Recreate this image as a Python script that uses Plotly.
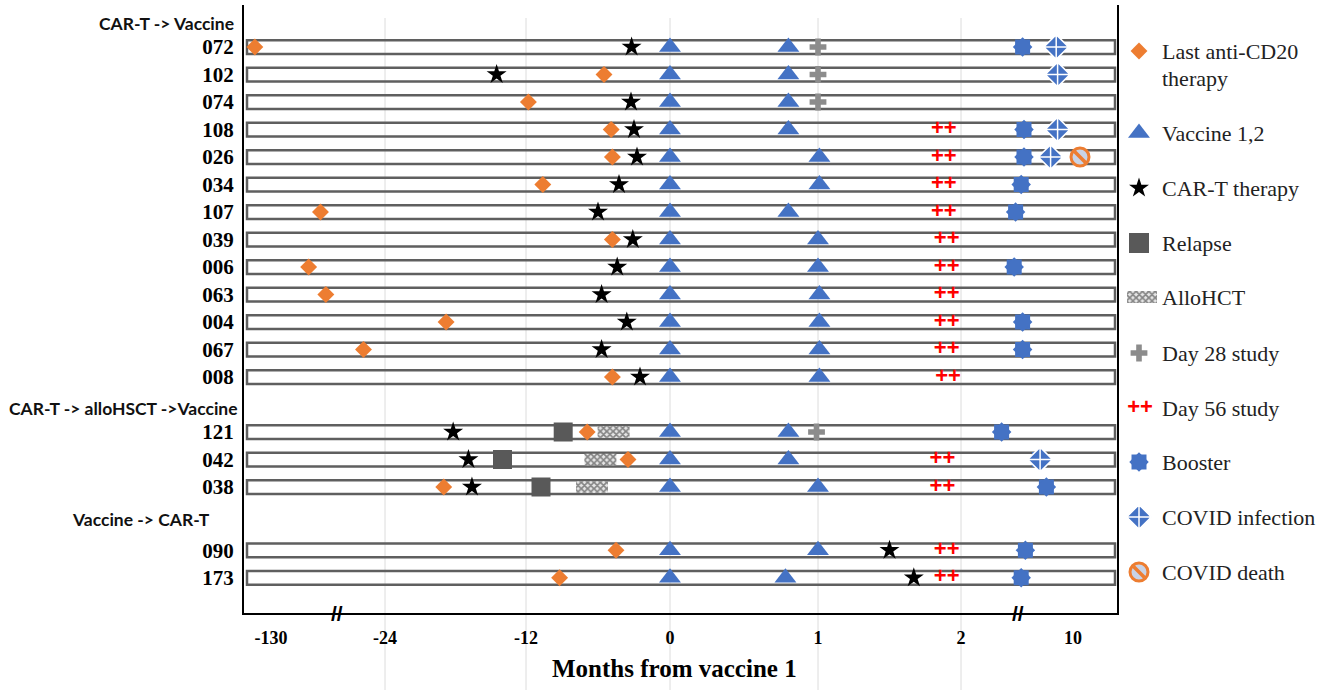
import numpy as np
import plotly.graph_objects as go

# ---------------- data (months from vaccine 1) ----------------
patients = ["072", "102", "074", "108", "026", "034", "107", "039", "006", "063",
            "004", "067", "008", "121", "042", "038", "090", "173"]
group_names = ["CAR-T -> Vaccine", "CAR-T -> alloHSCT ->Vaccine", "Vaccine -> CAR-T"]
group_sizes = [13, 3, 2]

anti_cd20 = [-145, -5.5, -11.8, -4.9, -4.8, -10.6, -84, -4.8, -95, -79,
             -18.8, -44, -4.8, -6.9, -3.5, -19.0, -4.5, -9.2]
car_t = [-3.2, -14.5, -3.25, -3.0, -2.75, -4.25, -6.0, -3.1, -4.4, -5.7,
         -3.6, -5.7, -2.5, -18.2, -16.9, -16.6, 1.5, 1.67]
vaccine1 = [0, 0, 0, 0, 0, 0, 0, 0, 0, 0, 0, 0, 0, 0, 0, 0, 0, 0]
vaccine2 = [0.80, 0.80, 0.80, 0.80, 1.01, 1.01, 0.80, 1.0, 1.0, 1.01,
            1.01, 1.01, 1.01, 0.80, 0.80, 1.0, 1.0, 0.78]
day28 = [1.0, 1.0, 1.0, None, None, None, None, None, None, None,
         None, None, None, 0.99, None, None, None, None]
day56 = [None, None, None, 1.88, 1.88, 1.88, 1.88, 1.9, 1.9, 1.9,
         1.9, 1.9, 1.91, None, 1.87, 1.87, 1.9, 1.9]
relapse = [None, None, None, None, None, None, None, None, None, None,
           None, None, None, -8.9, -14.0, -10.75, None, None]
allohct = [None, None, None, None, None, None, None, None, None, None,
           None, None, None, -4.7, -5.8, -6.5, None, None]
booster = [6.4, None, None, 6.5, 6.5, 6.3, 5.9, None, 5.8, None,
           6.4, 6.4, None, 4.9, 7.6, 8.1, 6.6, 6.3]
covid_inf = [8.8, 8.9, None, 8.9, 8.4, None, None, None, None, None,
             None, None, None, None, 7.65, None, None, None]
covid_death = [None, None, None, None, 10.5, None, None, None, None, None,
               None, None, None, None, None, None, None, None]

tick_months = [-130, -24, -12, 0, 1, 2, 10]
tick_labels = ["-130", "-24", "-12", "0", "1", "2", "10"]
legend_labels = ["Last anti-CD20<br>therapy", "Vaccine 1,2", "CAR-T therapy", "Relapse",
                 "AlloHCT", "Day 28 study", "Day 56 study", "Booster",
                 "COVID infection", "COVID death"]

# ---------------- broken-axis scale (months -> axis units) ----------------
KNOT_POS = np.array([271, 385, 526, 670, 818, 961, 1073], float)
KNOT_M = np.array(tick_months, float)


def to_pos(m):
    m = float(m)
    if m < KNOT_M[0]:
        s = (KNOT_POS[1] - KNOT_POS[0]) / (KNOT_M[1] - KNOT_M[0])
        return KNOT_POS[0] + (m - KNOT_M[0]) * s
    if m > KNOT_M[-1]:
        s = (KNOT_POS[-1] - KNOT_POS[-2]) / (KNOT_M[-1] - KNOT_M[-2])
        return KNOT_POS[-1] + (m - KNOT_M[-1]) * s
    return float(np.interp(m, KNOT_M, KNOT_POS))


# ---------------- row layout ----------------
group_start = [1, 15, 19.3]
header_off = [0.85, 0.85, 1.12]
slots = []
for gs, n in zip(group_start, group_sizes):
    slots += [gs + i for i in range(n)]

W, H = 1333, 690
L, T, B = 244, 5, 77
X_END = 1117
PW = W - L
PH = H - T - B
dom_main = (X_END - L) / PW

ORANGE = "#ED7D31"
BLUE = "#4472C4"
GRAY = "#8C8C8C"
DARK = "#595959"
SERIF = "Liberation Serif"
ALLO_PATTERN = dict(shape="x", fgcolor="#222222", bgcolor="#e6e6e6", size=4.5, solidity=0.6)

fig = go.Figure()


def pts(values):
    xs, ys = [], []
    for v, s in zip(values, slots):
        if v is not None:
            xs.append(to_pos(v))
            ys.append(s)
    return xs, ys


def add_markers(values, marker, xaxis="x", yaxis="y"):
    xs, ys = pts(values)
    fig.add_trace(go.Scatter(x=xs, y=ys, mode="markers", marker=marker,
                             showlegend=False, hoverinfo="skip", cliponaxis=False,
                             xaxis=xaxis, yaxis=yaxis))


# AlloHCT hatched blocks
ax, ay = pts(allohct)
fig.add_trace(go.Bar(orientation="h", base=[x - 16 for x in ax], x=[32] * len(ax), y=ay,
                     width=0.42, showlegend=False, hoverinfo="skip",
                     marker=dict(color="white", line=dict(width=0), pattern=ALLO_PATTERN)))

add_markers(anti_cd20, dict(symbol="diamond", size=13, color=ORANGE))
add_markers(relapse, dict(symbol="square", size=19, color=DARK))
add_markers(car_t, dict(symbol="star", size=15, color="black"))
add_markers(vaccine1, dict(symbol="triangle-up", size=19, color=BLUE))
add_markers(vaccine2, dict(symbol="triangle-up", size=19, color=BLUE))
add_markers(day28, dict(symbol="cross", size=14, color=GRAY))
# Day 56 study ("++")
dx, dy = pts(day56)
fig.add_trace(go.Scatter(x=dx, y=dy, mode="text", text=["<b>++</b>"] * len(dx),
                         textfont=dict(family="Liberation Sans", size=22, color="#FF0000"),
                         textposition="middle center", showlegend=False, hoverinfo="skip",
                         cliponaxis=False))
add_markers(booster, dict(symbol="square", size=15, color=BLUE))
add_markers(booster, dict(symbol="diamond", size=15, color=BLUE))
add_markers(covid_inf, dict(symbol="diamond-cross", size=19, color=BLUE,
                            line=dict(color="white", width=1.5)))
add_markers(covid_death, dict(symbol="circle", size=18, color="#c9d3e6",
                              line=dict(color=ORANGE, width=3)))
add_markers(covid_death, dict(symbol="line-nw", size=11, line=dict(color=ORANGE, width=3.5)))

# ---------------- legend (drawn on a side axis, px units) ----------------
leg_y = [51, 133, 188, 243, 297, 353, 408, 462, 517, 572]
LX = 1139


def leg_marker(y, marker):
    fig.add_trace(go.Scatter(x=[LX], y=[y], mode="markers", marker=marker, showlegend=False,
                             hoverinfo="skip", cliponaxis=False, xaxis="x2", yaxis="y2"))


leg_marker(leg_y[0], dict(symbol="diamond", size=13, color=ORANGE))
leg_marker(leg_y[1], dict(symbol="triangle-up", size=19, color=BLUE))
leg_marker(leg_y[2], dict(symbol="star", size=15, color="black"))
leg_marker(leg_y[3], dict(symbol="square", size=20, color=DARK))
fig.add_trace(go.Bar(orientation="h", base=[1127], x=[30], y=[leg_y[4]], width=12,
                     showlegend=False, hoverinfo="skip", xaxis="x2", yaxis="y2",
                     marker=dict(color="white", line=dict(width=0), pattern=ALLO_PATTERN)))
leg_marker(leg_y[5], dict(symbol="cross", size=14, color=GRAY))
fig.add_trace(go.Scatter(x=[1140], y=[leg_y[6]], mode="text", text=["<b>++</b>"],
                         textfont=dict(family="Liberation Sans", size=22, color="#FF0000"),
                         showlegend=False, hoverinfo="skip", cliponaxis=False,
                         xaxis="x2", yaxis="y2"))
leg_marker(leg_y[7], dict(symbol="square", size=15, color=BLUE))
leg_marker(leg_y[7], dict(symbol="diamond", size=15, color=BLUE))
leg_marker(leg_y[8], dict(symbol="diamond-cross", size=19, color=BLUE,
                          line=dict(color="white", width=1.5)))
leg_marker(leg_y[9], dict(symbol="circle", size=18, color="#c9d3e6",
                          line=dict(color=ORANGE, width=3)))
leg_marker(leg_y[9], dict(symbol="line-nw", size=11, line=dict(color=ORANGE, width=3.5)))

annotations = []
for lab, y in zip(legend_labels, leg_y):
    lines = lab.split("<br>")
    for k, line in enumerate(lines):
        annotations.append(dict(x=1160, y=y + 27 * k, xref="x2", yref="y2", text=line,
                                showarrow=False, xanchor="left", yanchor="middle",
                                font=dict(family=SERIF, size=22, color="#222")))

# group headers (paper coordinates, left of the plot area)
header_x = [236, 240, 212]
y_top = -(47 - T) / 27.5 + 1
y_bot = (H - B - 47) / 27.5 + 1
for name, gs, off, hx in zip(group_names, group_start, header_off, header_x):
    ys = gs - off
    annotations.append(dict(x=(hx - L) / PW, y=(y_bot - ys) / (y_bot - y_top),
                            xref="paper", yref="paper", text="<b>" + name + "</b>",
                            showarrow=False, xanchor="right", yanchor="middle",
                            font=dict(family="Lato", size=17.5, color="#111")))

# axis title
annotations.append(dict(x=674, y=(H - B - 668) / PH, xref="x", yref="paper",
                        text="<b>Months from vaccine 1</b>", showarrow=False,
                        xanchor="center", yanchor="middle",
                        font=dict(family=SERIF, size=25, color="black")))
# axis break marks
for bx in (337, 1018):
    annotations.append(dict(x=bx, y=0, xref="x", yref="paper", text="<b>//</b>",
                            showarrow=False, xanchor="center", yanchor="middle",
                            font=dict(family="Liberation Sans", size=21, color="black")))

# ---------------- shapes: gridlines + row boxes ----------------
shapes = []
for tm in tick_months[1:6]:
    p = to_pos(tm)
    shapes.append(dict(type="line", xref="x", yref="paper", x0=p, x1=p,
                       y0=(H - B - 690) / PH, y1=(H - B - 18) / PH,
                       line=dict(color="#dcdcdc", width=1), layer="below"))
for s in slots:
    shapes.append(dict(type="rect", xref="x", yref="y", x0=247, x1=1115,
                       y0=s - 0.25, y1=s + 0.25, line=dict(color="#5f5f5f", width=2.5),
                       fillcolor="rgba(0,0,0,0)", layer="below"))

fig.update_layout(
    width=W, height=H, margin=dict(l=L, r=0, t=T, b=B, autoexpand=False),
    paper_bgcolor="white", plot_bgcolor="white",
    showlegend=False, annotations=annotations, shapes=shapes,
    xaxis=dict(domain=[0, dom_main], range=[L, X_END], showgrid=False, zeroline=False,
               showline=True, linecolor="black", linewidth=2, ticks="",
               tickvals=[to_pos(m) for m in tick_months],
               ticktext=["<b>" + t + "</b>" for t in tick_labels],
               tickfont=dict(family=SERIF, size=18, color="black"),
               ticklabelstandoff=7, fixedrange=True, automargin=False),
    yaxis=dict(range=[y_bot, y_top], showgrid=False, zeroline=False, showline=True,
               mirror=True, linecolor="black", linewidth=2, ticks="",
               tickvals=slots, ticktext=["<b>" + p + "</b>" for p in patients],
               tickfont=dict(family=SERIF, size=21, color="black"),
               ticklabelstandoff=4, fixedrange=True, automargin=False),
    xaxis2=dict(domain=[dom_main, 1], range=[X_END, W], anchor="y2", visible=False,
                fixedrange=True),
    yaxis2=dict(domain=[0, 1], range=[H - B, T], anchor="x2", visible=False,
                fixedrange=True),
)

fig.write_html("out.html", config={"displayModeBar": False},
               post_script="document.body.style.margin='0';")
